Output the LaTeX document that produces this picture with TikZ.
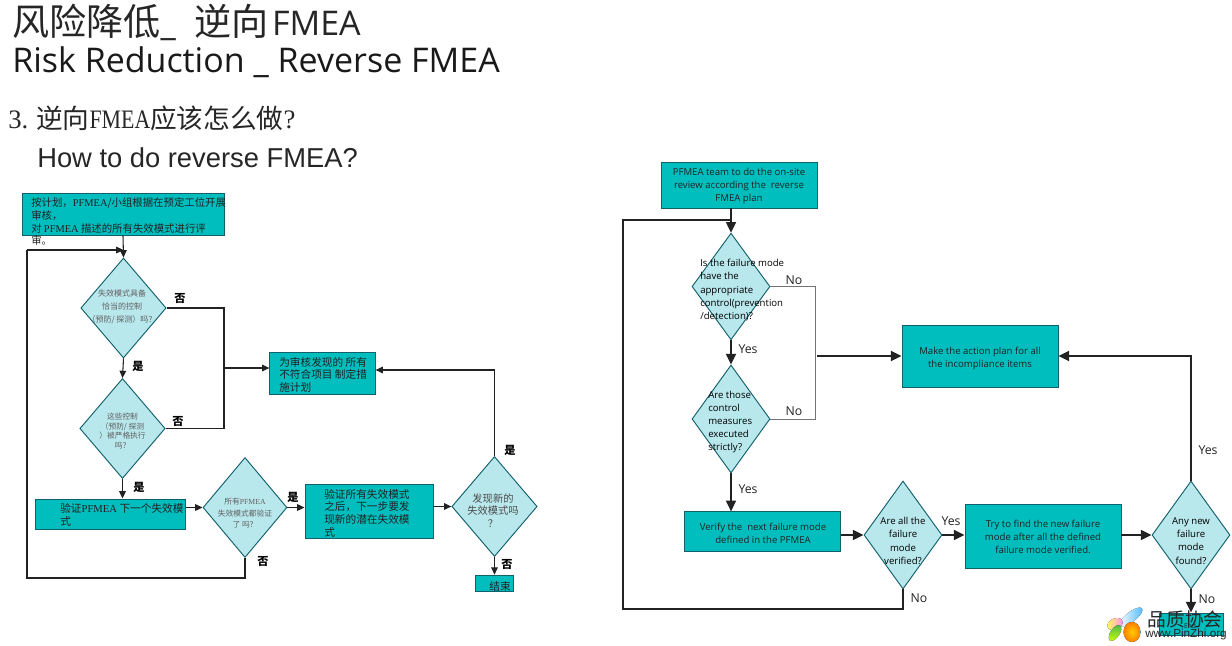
\documentclass[tikz,border=0pt]{standalone}
\usepackage{fontspec}
\setmainfont{Open Sans}
\newfontfamily\cjk{Noto Sans CJK SC}
\newfontfamily\arl{Liberation Sans}
\newfontfamily\lser{Liberation Serif}
\newfontfamily\lnarrow[FakeStretch=0.82]{Liberation Serif}
\usetikzlibrary{shapes.geometric,arrows.meta}
\definecolor{tealbox}{HTML}{00BDBE}
\definecolor{tealedge}{HTML}{11606C}
\definecolor{palefill}{HTML}{B8E7EC}
\definecolor{inkdark}{HTML}{222222}
\newcommand\pf{{\lser PFMEA}}
\tikzset{
  x=0.75pt,y=-0.75pt,
  flowbox/.style={draw=tealedge,fill=tealbox,line width=0.7pt,rectangle,inner sep=0pt},
  flowdia/.style={draw=tealedge,fill=palefill,line width=0.7pt,diamond,inner sep=0pt,aspect=1},
  linkl/.style={draw=inkdark,line width=0.8pt,-{Triangle[length=5.5pt,width=5pt]}},
  plainl/.style={draw=inkdark,line width=0.8pt},
  linkr/.style={draw=inkdark,line width=1.2pt,-{Triangle[length=8pt,width=7.5pt]}},
  plainr/.style={draw=inkdark,line width=1.1pt},
  thinr/.style={draw=black!55,line width=0.7pt},
  txt/.style={inner sep=0pt,align=left,text=inkdark},
  ctr/.style={inner sep=0pt,align=center,text=inkdark},
  cnbig/.style={font=\cjk\fontsize{7.8pt}{9.6pt}\selectfont},
  cnsm/.style={font=\cjk\fontsize{6pt}{9.8pt}\selectfont,text=black!62},
  en/.style={font=\fontsize{7.2pt}{9.9pt}\selectfont},
  yn/.style={inner sep=0pt,font=\fontsize{9.2pt}{10pt}\selectfont,text=inkdark},
  shi/.style={inner sep=0pt,font=\cjk\bfseries\fontsize{8.4pt}{9pt}\selectfont,text=black},
}
\begin{document}
\begin{tikzpicture}
\useasboundingbox (0,0) rectangle (1232,646);
\fill[white] (0,0) rectangle (1232,646);

% headings
\node[txt,anchor=west,text=black!85,font=\cjk\fontsize{27.8pt}{30pt}\selectfont] (h1) at (12,22) {风险降低{\rmfamily\fontsize{25.5pt}{28pt}\selectfont\_ }\hspace{7.5pt}逆向\hspace{2.5pt}{\rmfamily\fontsize{25.5pt}{28pt}\selectfont FMEA}};
\node[txt,anchor=west,text=black!90,font=\fontsize{25.5pt}{28pt}\selectfont] (h2) at (12,62.5) {Risk Reduction \_ Reverse FMEA};
\node[txt,anchor=west,text=black!85,font=\cjk\fontsize{20pt}{22pt}\selectfont] (h3) at (8,118) {{\lser 3.} 逆向{\lnarrow FMEA}应该怎么做{\lser ?}};
\node[txt,anchor=west,text=black!85,font=\arl\fontsize{20.5pt}{22pt}\selectfont] (h4) at (37,158) {How to do reverse FMEA?};

% Chinese flow: boxes and decisions
\node[flowbox,minimum width=151.5pt,minimum height=31pt] (lA) at (123,214.5) {};
\node[flowdia,minimum width=64pt,minimum height=75pt] (lD1) at (123.5,308) {};
\node[flowdia,minimum width=64pt,minimum height=75pt] (lD2) at (122.5,428.5) {};
\node[flowbox,minimum width=113pt,minimum height=22.5pt] (lV) at (110.5,514) {};
\node[flowdia,minimum width=63pt,minimum height=75pt] (lD3) at (245,507.5) {};
\node[flowbox,minimum width=96pt,minimum height=41pt] (lN) at (369,511.5) {};
\node[flowdia,minimum width=64pt,minimum height=75pt] (lD4) at (494.5,506.5) {};
\node[flowbox,minimum width=28.5pt,minimum height=12.5pt] (lE) at (494,583.5) {};
\node[flowbox,minimum width=79pt,minimum height=31.5pt] (lP) at (322.5,373) {};

% Chinese flow: connectors
\coordinate (ljoin) at (123.5,250);
\draw[linkl] (lA.south) -- (lD1.north);
\draw[linkl] (27,250) -- (ljoin);
\draw[linkl] (lD1.south) -- (lD2.north);
\draw[linkl] (lD2.south) -- (lD2.south |- lV.north);
\draw[linkl] (lV.east |- lD3.west) -- (lD3.west);
\draw[linkl] (lD3.east) -- (lN.west |- lD3.east);
\draw[linkl] (lN.east |- lD4.west) -- (lD4.west);
\draw[linkl] (lD4.south) -- (lD4.south |- lE.north);
\draw[plainl] (lD1.east) -- (224,308) -- (224,428.5) -- (lD2.east);
\draw[linkl] (224,368) -- (lP.west |- 224,368);
\draw[linkl] (lD4.north) -- (494.5,370) -- (lP.east |- 494.5,370);
\draw[plainl] (lD3.south) -- (245,578) -- (27,578) -- (27,250);

% Chinese flow: texts
\node[txt,cnbig,anchor=north west] (ltA) at (31,197.5) {按计划，\pf/小组根据在预定工位开展\\审核，\\对 \pf{} 描述的所有失效模式进行评\\审。};
\node[ctr,cnsm] (ltD1) at (122,307) {失效模式具备\\恰当的控制\\（预防/ 探测）吗？};
\node[ctr,cnsm,font=\cjk\fontsize{5.8pt}{7.3pt}\selectfont] (ltD2) at (122.5,431) {这些控制\\（预防/ 探测\\）被严格执行\\吗？};
\node[txt,font=\cjk\fontsize{8pt}{9.8pt}\selectfont,anchor=north west] (ltV) at (60,503) {验证\pf{} 下一个失效模\\式};
\node[ctr,cnsm,font=\cjk\fontsize{5.8pt}{8.6pt}\selectfont] (ltD3) at (245,513.5) {所有\pf\\失效模式都验证\\了 吗？};
\node[txt,cnbig,font=\cjk\fontsize{8pt}{9.5pt}\selectfont,anchor=north west] (ltN) at (324,489) {验证所有失效模式\\之后，下一步要发\\现新的潜在失效模\\式};
\node[txt,cnbig,font=\cjk\fontsize{8pt}{9.4pt}\selectfont,anchor=north west] (ltP) at (279,357) {为审核发现的 所有\\不符合项目 制定措\\施计划};
\node[ctr,font=\cjk\fontsize{7.7pt}{9.3pt}\selectfont,text=black!70] (ltD4) at (493,510.5) {发现新的\\失效模式吗\\？};
\node[ctr,font=\cjk\fontsize{8pt}{9pt}\selectfont] (ltE) at (500,586) {结束};
\node[shi] (ln1) at (180,298) {否};
\node[shi] (ly1) at (138,366) {是};
\node[shi] (ln2) at (178,421) {否};
\node[shi] (ly2) at (139,487) {是};
\node[shi] (ly3) at (293,497) {是};
\node[shi] (ln3) at (263,561) {否};
\node[shi] (ly4) at (510,450) {是};
\node[shi] (ln4) at (507,564) {否};

% English flow: boxes and decisions
\node[flowbox,minimum width=117pt,minimum height=34.5pt] (rA) at (739,185) {};
\node[flowdia,minimum width=58.5pt,minimum height=80pt] (rD1) at (731,286.5) {};
\node[flowdia,minimum width=58.5pt,minimum height=81pt] (rD2) at (731,419) {};
\node[flowbox,minimum width=117.5pt,minimum height=29.5pt] (rV) at (762.5,531.5) {};
\node[flowdia,minimum width=58.5pt,minimum height=81pt] (rD3) at (903,535) {};
\node[flowbox,minimum width=117pt,minimum height=48pt] (rN) at (1043,536) {};
\node[flowdia,minimum width=58.5pt,minimum height=81pt] (rD4) at (1191,535) {};
\node[flowbox,minimum width=48pt,minimum height=16.5pt] (rE) at (1191,624) {};
\node[flowbox,minimum width=117pt,minimum height=47pt] (rP) at (980,356.5) {};

% English flow: connectors
\coordinate (rjoin) at (731,220);
\coordinate (rgap) at (817,356);
\draw[linkr] (rA.south -| rD1.north) -- (rD1.north);
\draw[plainr] (rD3.south) -- (903,609) -- (623,609) -- (623,220) -- (rjoin);
\draw[linkr] (rD1.south) -- (rD2.north);
\draw[linkr] (rD2.south) -- (rD2.south |- rV.north);
\draw[linkr] (rV.east |- rD3.west) -- (rD3.west);
\draw[linkr] (rD3.east) -- (rN.west |- rD3.east);
\draw[linkr] (rN.east |- rD4.west) -- (rD4.west);
\draw[linkr] (rD4.south) -- (rE.north);
\draw[thinr] (rD1.east) -- (815,286.5) -- (815,419) -- (rD2.east);
\draw[linkr] (rgap) -- (rP.west |- rgap);
\draw[linkr] (rD4.north) -- (1191,356) -- (rP.east |- 1191,356);

% English flow: texts
\node[ctr,en] (rtA) at (739,186) {PFMEA team to do the on-site\\review according the~ reverse\\FMEA plan};
\node[txt,en,text=black,anchor=north west] (rtD1) at (700,259) {Is the failure mode\\have the\\appropriate\\control(prevention\\/detection)?};
\node[txt,en,text=black,anchor=north west] (rtD2) at (708,390.5) {Are those\\control\\measures\\executed\\strictly?};
\node[ctr,en] (rtV) at (763,533.5) {Verify the~ next failure mode\\defined in the PFMEA};
\node[ctr,en,text=black] (rtD3) at (903,541) {Are all the\\failure\\mode\\verified?};
\node[ctr,en] (rtN) at (1043,537) {Try to find the new failure\\mode after all the defined\\failure mode verified.};
\node[ctr,en,text=black] (rtD4) at (1191,541) {Any new\\failure\\mode\\found?};
\node[ctr,en] (rtP) at (980,358.5) {Make the action plan for all\\the incompliance items};
\node[ctr,font=\fontsize{5pt}{6pt}\selectfont] (rtE) at (1190,626) {End};
\node[yn] (rn1) at (794,280) {No};
\node[yn] (rn2) at (794,411) {No};
\node[yn] (ry1) at (748,349) {Yes};
\node[yn] (ry2) at (748,489) {Yes};
\node[yn] (ry3) at (951,521) {Yes};
\node[yn] (rn3) at (919,598) {No};
\node[yn] (ry4) at (1208,450) {Yes};
\node[yn] (rn4) at (1207,599) {No};

% Emblem with its four petals and the site name
\begin{scope}[line width=0pt]
  \fill[left color=white,right color=cyan!60!blue!70,rotate around={38:(1131,617)}] (1131,617) ellipse (14 and 5);
  \fill[left color=yellow!70,right color=magenta!45,rotate around={25:(1115,624)}] (1115,624) ellipse (8 and 5.5);
  \fill[top color=green!60!black!70,bottom color=yellow!80!green,rotate around={-35:(1115,633)}] (1115,633) ellipse (4.5 and 9);
  \fill[inner color=yellow!60!orange,outer color=orange] (1132,632) ellipse (8.5 and 10);
\end{scope}
\node[ctr,font=\cjk\fontsize{14pt}{15pt}\selectfont,text=black!85] (logoA) at (1185,619) {品质协会};
\node[ctr,font=\arl\fontsize{8.8pt}{9pt}\selectfont,text=black!85] (logoB) at (1186,634.5) {www.PinZhi.org};
\end{tikzpicture}
\end{document}
